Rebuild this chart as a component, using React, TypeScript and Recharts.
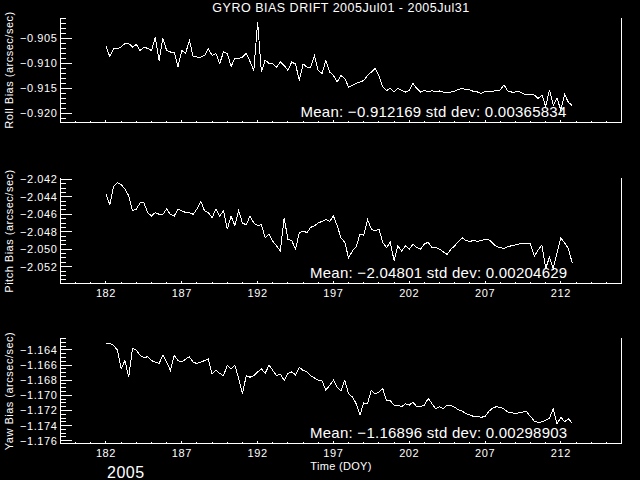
import React from 'react';
import { LineChart, Line, XAxis, YAxis } from 'recharts';

// day of year, Jul 2005 (sampled every 6 h)
const DAYS = [
  182.0, 182.25, 182.5, 182.75, 183.0, 183.25, 183.5, 183.75, 184.0, 184.25, 184.5, 184.75,
  185.0, 185.25, 185.5, 185.75, 186.0, 186.25, 186.5, 186.75, 187.0, 187.25, 187.5, 187.75,
  188.0, 188.25, 188.5, 188.75, 189.0, 189.25, 189.5, 189.75, 190.0, 190.25, 190.5, 190.75,
  191.0, 191.25, 191.5, 191.75, 192.0, 192.25, 192.5, 192.75, 193.0, 193.25, 193.5, 193.75,
  194.0, 194.25, 194.5, 194.75, 195.0, 195.25, 195.5, 195.75, 196.0, 196.25, 196.5, 196.75,
  197.0, 197.25, 197.5, 197.75, 198.0, 198.25, 198.5, 198.75, 199.0, 199.25, 199.5, 199.75,
  200.0, 200.25, 200.5, 200.75, 201.0, 201.25, 201.5, 201.75, 202.0, 202.25, 202.5, 202.75,
  203.0, 203.25, 203.5, 203.75, 204.0, 204.25, 204.5, 204.75, 205.0, 205.25, 205.5, 205.75,
  206.0, 206.25, 206.5, 206.75, 207.0, 207.25, 207.5, 207.75, 208.0, 208.25, 208.5, 208.75,
  209.0, 209.25, 209.5, 209.75, 210.0, 210.25, 210.5, 210.75, 211.0, 211.25, 211.5, 211.75,
  212.0, 212.25, 212.5, 212.75,
];

const ROLL = [
  -0.9067, -0.9087, -0.9071, -0.9071, -0.9068, -0.9061, -0.9061, -0.9068, -0.9063, -0.9075, -0.9068, -0.9071,
  -0.9075, -0.9049, -0.9095, -0.9051, -0.9075, -0.9078, -0.9078, -0.9107, -0.9075, -0.9081, -0.9055, -0.9087,
  -0.9088, -0.9088, -0.9085, -0.9072, -0.9085, -0.9081, -0.9101, -0.9078, -0.9081, -0.9107, -0.9091, -0.9091,
  -0.9088, -0.9081, -0.9097, -0.9115, -0.9018, -0.9118, -0.9094, -0.9101, -0.9102, -0.9108, -0.9098, -0.9105,
  -0.9115, -0.9098, -0.9102, -0.9135, -0.9102, -0.9108, -0.9108, -0.9085, -0.9115, -0.9121, -0.9095, -0.9118,
  -0.9125, -0.9138, -0.9125, -0.9131, -0.9148, -0.9145, -0.9141, -0.9138, -0.9135, -0.9125, -0.9118, -0.9111,
  -0.9125, -0.9148, -0.9155, -0.9151, -0.9158, -0.9151, -0.9155, -0.9158, -0.9155, -0.9141, -0.9151, -0.9158,
  -0.9155, -0.9158, -0.9155, -0.9158, -0.9156, -0.9158, -0.916, -0.9158, -0.9156, -0.9153, -0.9151, -0.9153,
  -0.9154, -0.9157, -0.9158, -0.9161, -0.9157, -0.9156, -0.9157, -0.9154, -0.9154, -0.9144, -0.9156, -0.9158,
  -0.9158, -0.9157, -0.9161, -0.9164, -0.9163, -0.9164, -0.9171, -0.9164, -0.9187, -0.9154, -0.9184, -0.9171,
  -0.9194, -0.9163, -0.9179, -0.9185,
];

const PITCH = [
  -2.0437, -2.0449, -2.0428, -2.0424, -2.0426, -2.0431, -2.0439, -2.0456, -2.0454, -2.0447, -2.0447, -2.0458,
  -2.0462, -2.0458, -2.046, -2.046, -2.0454, -2.046, -2.0462, -2.0454, -2.0456, -2.0458, -2.0458, -2.046,
  -2.0454, -2.0445, -2.0456, -2.0458, -2.0464, -2.0454, -2.0462, -2.0456, -2.0477, -2.0462, -2.0473, -2.0456,
  -2.047, -2.0472, -2.0462, -2.047, -2.0473, -2.0472, -2.0487, -2.0483, -2.0491, -2.0496, -2.0502, -2.0464,
  -2.0489, -2.049, -2.05, -2.0481, -2.0479, -2.0481, -2.0475, -2.0473, -2.047, -2.0468, -2.0466, -2.0468,
  -2.0462, -2.0473, -2.0487, -2.0492, -2.051, -2.0502, -2.0497, -2.0483, -2.0484, -2.0466, -2.0477, -2.0479,
  -2.0477, -2.0492, -2.0498, -2.0492, -2.0513, -2.0496, -2.0502, -2.0496, -2.05, -2.0494, -2.0498, -2.05,
  -2.0494, -2.0492, -2.0498, -2.0498, -2.05, -2.0503, -2.0506, -2.05, -2.0496, -2.0491, -2.0487, -2.049,
  -2.0491, -2.049, -2.0491, -2.049, -2.0489, -2.0489, -2.0493, -2.0497, -2.0498, -2.0499, -2.0497, -2.0496,
  -2.0495, -2.0494, -2.0493, -2.0493, -2.0494, -2.0508, -2.0501, -2.0495, -2.0522, -2.0509, -2.0522, -2.0504,
  -2.0487, -2.0493, -2.0499, -2.0516,
];

const YAW = [
  -1.1632, -1.1631, -1.1634, -1.164, -1.1665, -1.1654, -1.1676, -1.1638, -1.164, -1.1647, -1.165, -1.1649,
  -1.1654, -1.1656, -1.1658, -1.1647, -1.1656, -1.1667, -1.1647, -1.1654, -1.1656, -1.1652, -1.1649, -1.1656,
  -1.1658, -1.1656, -1.1654, -1.1652, -1.1672, -1.1667, -1.1671, -1.1674, -1.166, -1.1665, -1.166, -1.1678,
  -1.1698, -1.1674, -1.1676, -1.1674, -1.1669, -1.1665, -1.1671, -1.166, -1.1667, -1.1674, -1.1672, -1.168,
  -1.1671, -1.1669, -1.1673, -1.1663, -1.1667, -1.1669, -1.1674, -1.1677, -1.168, -1.1681, -1.1693, -1.1687,
  -1.168, -1.1689, -1.1694, -1.168, -1.1698, -1.1702, -1.1711, -1.1726, -1.171, -1.1711, -1.1693, -1.1698,
  -1.1696, -1.1691, -1.1707, -1.1707, -1.1713, -1.1713, -1.1715, -1.1711, -1.1713, -1.1709, -1.1715, -1.1715,
  -1.1713, -1.1704, -1.1711, -1.1718, -1.1715, -1.1718, -1.1713, -1.1713, -1.1716, -1.1719, -1.1721, -1.1724,
  -1.1726, -1.1728, -1.1728, -1.1729, -1.1728, -1.1721, -1.1717, -1.1715, -1.1716, -1.1718, -1.1722, -1.1723,
  -1.1724, -1.1723, -1.1722, -1.1722, -1.1728, -1.1734, -1.1736, -1.1735, -1.1733, -1.173, -1.1718, -1.1738,
  -1.1729, -1.1735, -1.1731, -1.1737,
];

const X_LABELS = [182, 187, 192, 197, 202, 207, 212];
const ROLL_TICKS = [-0.905, -0.91, -0.915, -0.92];
const PITCH_TICKS = [-2.042, -2.044, -2.046, -2.048, -2.05, -2.052];
const YAW_TICKS = [-1.164, -1.166, -1.168, -1.17, -1.172, -1.174, -1.176];

const FONT = '"Liberation Sans", Arial, sans-serif';
const X_DOMAIN: [number, number] = [179, 216];

function steps(lo: number, hi: number, step: number) {
  const out: number[] = [];
  const n = Math.round((hi - lo) / step);
  for (let i = 0; i <= n; i++) out.push(+(lo + i * step).toFixed(6));
  return out;
}

const isMajor = (v: number, majors: number[]) => majors.some((m) => Math.abs(m - v) < 1e-7);
const fmt = (v: number) => v.toFixed(3).replace('-', '\u2212');

function XTick(props: any) {
  const { x, y, payload, side, labels } = props;
  const major = isMajor(payload.value, X_LABELS);
  const len = major ? 3 : 1.5;
  const dir = side === 'top' ? 1 : -1;
  return (
    <g>
      <line x1={x} x2={x} y1={y} y2={y + dir * len} stroke="#fff" strokeWidth={1} />
      {labels && major && side === 'bottom' ? (
        <text x={x} y={y + 13} fill="#fff" fontSize={11} fontFamily={FONT} textAnchor="middle" letterSpacing={0.6}>
          {payload.value}
        </text>
      ) : null}
    </g>
  );
}

function YTick(props: any) {
  const { x, y, payload, side, majors } = props;
  const major = isMajor(payload.value, majors);
  const len = major ? 11 : 5.5;
  const dir = side === 'left' ? 1 : -1;
  return (
    <g>
      <line x1={x} x2={x + dir * len} y1={y} y2={y} stroke="#fff" strokeWidth={1} />
      {side === 'left' && major ? (
        <text x={x - 3} y={y + 4} fill="#fff" fontSize={11} fontFamily={FONT} textAnchor="end" letterSpacing={0.6}>
          {fmt(payload.value)}
        </text>
      ) : null}
    </g>
  );
}

interface PanelProps {
  top: number;
  boxBottom: number;
  values: number[];
  domain: [number, number];
  majors: number[];
  minorStep: number;
  showX: boolean;
}

function Panel({ top, boxBottom, values, domain, majors, minorStep, showX }: PanelProps) {
  const data = DAYS.map((d, i) => ({ day: d, v: values[i] }));
  const xTicks = steps(179, 216, 1);
  const yTicks = steps(Math.ceil(domain[0] / minorStep) * minorStep, Math.floor(domain[1] / minorStep) * minorStep, minorStep);
  return (
    <div style={{ position: 'absolute', left: 0, top }}>
      <LineChart width={640} height={160} data={data} margin={{ top: 17.5, right: 0, bottom: 0, left: 0 }}>
        <XAxis
          xAxisId="b"
          type="number"
          dataKey="day"
          domain={X_DOMAIN}
          ticks={xTicks}
          interval={0}
          height={160 - boxBottom}
          tickSize={0}
          tickMargin={0}
          tickLine={false}
          axisLine={{ stroke: '#fff' }}
          tick={(p: any) => <XTick {...p} side="bottom" labels={showX} />}
        />
        <XAxis
          xAxisId="t"
          orientation="top"
          type="number"
          dataKey="day"
          domain={X_DOMAIN}
          ticks={xTicks}
          interval={0}
          height={0}
          tickSize={0}
          tickMargin={0}
          tickLine={false}
          axisLine={{ stroke: '#fff' }}
          tick={(p: any) => <XTick {...p} side="top" />}
        />
        <YAxis
          yAxisId="l"
          type="number"
          domain={domain}
          ticks={yTicks}
          interval={0}
          width={60.5}
          tickSize={0}
          tickMargin={0}
          tickLine={false}
          axisLine={{ stroke: '#fff' }}
          tick={(p: any) => <YTick {...p} side="left" majors={majors} />}
        />
        <YAxis
          yAxisId="r"
          orientation="right"
          type="number"
          domain={domain}
          ticks={yTicks}
          interval={0}
          width={18.5}
          tickSize={0}
          tickMargin={0}
          tickLine={false}
          axisLine={{ stroke: '#fff' }}
          tick={(p: any) => <YTick {...p} side="right" majors={majors} />}
        />
        <Line
          xAxisId="b"
          yAxisId="l"
          type="linear"
          dataKey="v"
          stroke="#fff"
          strokeWidth={1}
          dot={false}
          isAnimationActive={false}
        />
      </LineChart>
    </div>
  );
}

export default function App() {
  const lbl = { fill: '#fff', fontFamily: FONT };
  return (
    <div style={{ position: 'absolute', left: 0, top: 0, width: 640, height: 480, background: '#000', overflow: 'hidden' }}>
      {/* IDL-style aliased strokes */}
      <style>{'.recharts-wrapper path, .recharts-wrapper line { shape-rendering: crispEdges; }'}</style>
      <Panel top={0} boxBottom={122.5} values={ROLL} domain={[-0.9219, -0.9009]} majors={ROLL_TICKS} minorStep={0.001} showX={false} />
      <Panel top={160} boxBottom={123.5} values={PITCH} domain={[-2.05392, -2.04179]} majors={PITCH_TICKS} minorStep={0.0005} showX={true} />
      <Panel top={320} boxBottom={123.5} values={YAW} domain={[-1.17637, -1.16235]} majors={YAW_TICKS} minorStep={0.0005} showX={true} />
      <svg width={640} height={480} style={{ position: 'absolute', left: 0, top: 0, pointerEvents: 'none' }}>
        <text x={341} y={12} textAnchor="middle" fontSize={12.5} letterSpacing={0.5} {...lbl}>
          GYRO BIAS DRIFT 2005Jul01 - 2005Jul31
        </text>
        <text transform="translate(13,70) rotate(-90)" textAnchor="middle" fontSize={11} letterSpacing={0.5} {...lbl}>
          Roll Bias (arcsec/sec)
        </text>
        <text transform="translate(13,231) rotate(-90)" textAnchor="middle" fontSize={11} letterSpacing={0.5} {...lbl}>
          Pitch Bias (arcsec/sec)
        </text>
        <text transform="translate(13,391) rotate(-90)" textAnchor="middle" fontSize={11} letterSpacing={0.5} {...lbl}>
          Yaw Bias (arcsec/sec)
        </text>
        <text x={300.5} y={116.5} fontSize={15} letterSpacing={0.25} {...lbl}>
          Mean: {'\u2212'}0.912169 std dev: 0.00365834
        </text>
        <text x={310} y={277.5} fontSize={15} letterSpacing={0.25} {...lbl}>
          Mean: {'\u2212'}2.04801 std dev: 0.00204629
        </text>
        <text x={310} y={437.5} fontSize={15} letterSpacing={0.25} {...lbl}>
          Mean: {'\u2212'}1.16896 std dev: 0.00298903
        </text>
        <text x={341} y={469.5} textAnchor="middle" fontSize={11} letterSpacing={0.3} {...lbl}>
          Time (DOY)
        </text>
        <text x={107} y={477.5} fontSize={16} letterSpacing={0.5} {...lbl}>
          2005
        </text>
      </svg>
    </div>
  );
}
